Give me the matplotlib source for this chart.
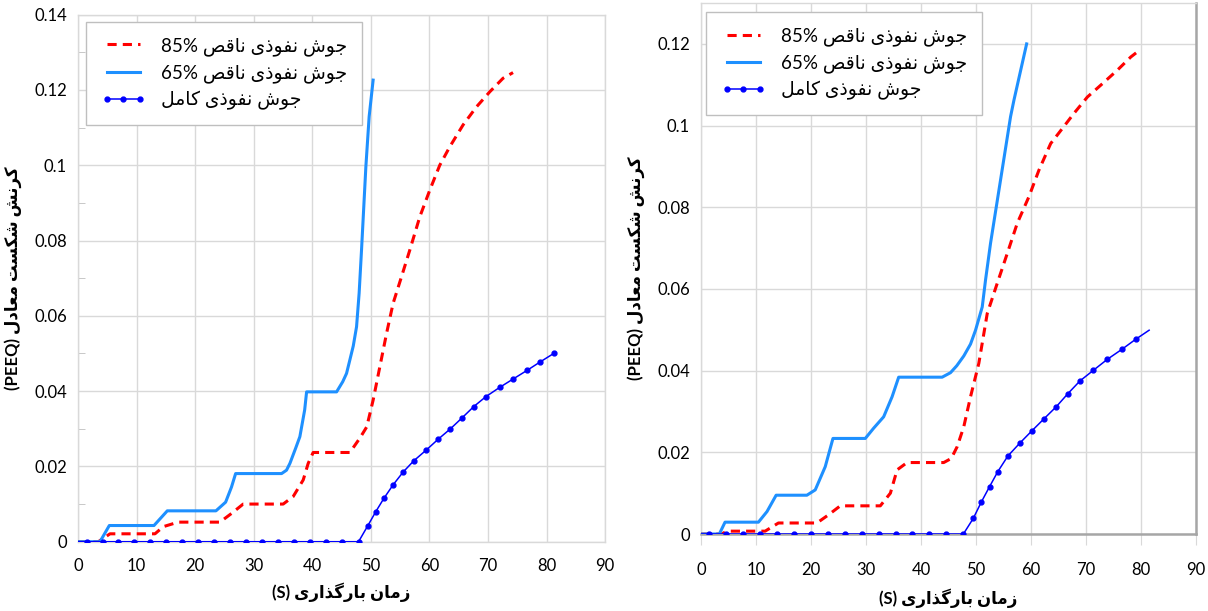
import matplotlib
matplotlib.use("Agg")
import matplotlib.pyplot as plt
from matplotlib.ticker import FuncFormatter, MultipleLocator

plt.rcParams['font.family'] = ['Lato', 'DejaVu Sans']

# ---- data (time in s, PEEQ) ----
left_t85 = [0, 3.46, 5.46, 13.14, 14.56, 17.1, 24.23, 26.2, 28.2, 35.03, 36.74, 38.45, 39.3, 40.15,
            46.42, 48.12, 49.3, 50.39, 51.54, 52.68, 53.8, 55.24, 56.66, 58.36, 60.07, 61.77,
            63.48, 65.75, 68.04, 70.31, 72.58, 74.28]
left_s85 = [0, 0, 0.0021, 0.0021, 0.004, 0.0052, 0.0052, 0.0075, 0.0100, 0.0100, 0.012, 0.0164, 0.0208, 0.0237,
            0.0237, 0.0275, 0.0305, 0.0376, 0.0465, 0.0553, 0.0633, 0.0704, 0.0775, 0.0863, 0.0934, 0.1000,
            0.1049, 0.1107, 0.1155, 0.1195, 0.1231, 0.1246]

left_t65 = [0, 3.75, 5.34, 12.97, 15.24, 23.55, 25.2, 26.2, 26.91, 34.76, 35.6, 36.18, 37.2, 37.88, 38.7,
            39.03, 44.15, 45.2, 45.85, 46.42, 47.0, 47.56, 48.0, 48.41, 49.15, 49.71, 50.39]
left_s65 = [0, 0, 0.0043, 0.0043, 0.0082, 0.0082, 0.0105, 0.0145, 0.0181, 0.0181, 0.019, 0.0208, 0.025, 0.0279, 0.035,
            0.0398, 0.0398, 0.0425, 0.0447, 0.0483, 0.052, 0.0571, 0.066, 0.0775, 0.0996, 0.1129, 0.1226]

left_tf = [0, 1.5, 4.2, 6.9, 9.6, 12.3, 15.1, 17.8, 20.5, 23.2, 26.0, 28.7, 31.4, 34.2, 36.9, 39.6, 42.3,
           45.1, 47.9, 49.5, 50.85, 52.22, 53.8, 55.51, 57.34, 59.5, 61.48, 63.6, 65.58, 67.58, 69.62,
           72.01, 74.28, 76.67, 78.96, 81.23]
left_sf = [0, 0, 0, 0, 0, 0, 0, 0, 0, 0, 0, 0, 0, 0, 0, 0, 0,
           0, 0, 0.0043, 0.008, 0.0115, 0.0151, 0.0185, 0.0215, 0.0244, 0.0272, 0.0300, 0.0329, 0.0359, 0.0385,
           0.041, 0.0432, 0.0455, 0.0478, 0.0500]

right_t85 = [0, 3.77, 4.68, 11.66, 14.08, 21.07, 23.19, 25.32, 32.6, 34.43, 35.65, 37.47, 44.13, 45.5,
             46.58, 47.78, 49.0, 50.51, 52.04, 53.86, 55.68, 57.5, 59.62, 61.44, 63.57, 65.7, 67.81,
             70.25, 72.68, 75.72, 78.14, 79.96]
right_s85 = [0, 0, 0.0007, 0.0007, 0.0027, 0.0027, 0.0047, 0.0069, 0.0069, 0.010, 0.0157, 0.0175, 0.0175, 0.0185,
             0.0214, 0.0263, 0.0336, 0.0418, 0.054, 0.0614, 0.0687, 0.0761, 0.0826, 0.0891, 0.0956, 0.0993, 0.103,
             0.107, 0.1099, 0.1136, 0.1168, 0.1187]

right_t65 = [0, 3.33, 4.37, 10.44, 12.0, 13.66, 19.25, 20.77, 22.59, 23.99, 29.87, 31.38, 33.21, 34.74, 35.94,
             43.84, 45.36, 46.5, 47.78, 49.0, 49.91, 51.13, 51.73, 52.64, 54.46, 56.28, 56.89, 59.2]
right_s65 = [0, 0, 0.0029, 0.0029, 0.0055, 0.0095, 0.0095, 0.0108, 0.0165, 0.0234, 0.0234, 0.0259, 0.0287, 0.0336, 0.0384,
             0.0384, 0.0395, 0.0412, 0.0436, 0.0465, 0.0499, 0.0556, 0.0622, 0.0712, 0.0867, 0.1022, 0.1062, 0.12]

right_tf = [0, 1.5, 4.6, 7.7, 10.7, 13.8, 16.9, 20.0, 23.0, 26.1, 29.2, 32.3, 35.4, 38.4, 41.5, 44.6, 47.7,
            49.49, 50.95, 52.46, 53.97, 55.79, 57.92, 60.11, 62.35, 64.61, 66.72, 68.91, 71.35, 73.9,
            76.5, 79.05, 81.47]
right_sf = [0, 0, 0, 0, 0, 0, 0, 0, 0, 0, 0, 0, 0, 0, 0, 0, 0,
            0.0038, 0.0078, 0.0116, 0.0153, 0.0191, 0.0222, 0.0252, 0.0282, 0.0312, 0.0344, 0.0375, 0.0401, 0.0428,
            0.0452, 0.0477, 0.0499]

label85 = "جوش نفوذی ناقص"
label65 = "جوش نفوذی ناقص"
label_full = "جوش نفوذی کامل"
ylabel_fa = "کرنش شکست معادل"
xlabel_fa = "زمان بارگذاری"

# ---- minimal arabic shaping (matplotlib has no shaping / bidi) ----
FORMS = {
    'ا': ('\uFE8D', '\uFE8E', None, None),
    'ب': ('\uFE8F', '\uFE90', '\uFE91', '\uFE92'),
    'ت': ('\uFE95', '\uFE96', '\uFE97', '\uFE98'),
    'ج': ('\uFE9D', '\uFE9E', '\uFE9F', '\uFEA0'),
    'د': ('\uFEA9', '\uFEAA', None, None),
    'ذ': ('\uFEAB', '\uFEAC', None, None),
    'ر': ('\uFEAD', '\uFEAE', None, None),
    'ز': ('\uFEAF', '\uFEB0', None, None),
    'س': ('\uFEB1', '\uFEB2', '\uFEB3', '\uFEB4'),
    'ش': ('\uFEB5', '\uFEB6', '\uFEB7', '\uFEB8'),
    'ص': ('\uFEB9', '\uFEBA', '\uFEBB', '\uFEBC'),
    'ع': ('\uFEC9', '\uFECA', '\uFECB', '\uFECC'),
    'ف': ('\uFED1', '\uFED2', '\uFED3', '\uFED4'),
    'ق': ('\uFED5', '\uFED6', '\uFED7', '\uFED8'),
    'ل': ('\uFEDD', '\uFEDE', '\uFEDF', '\uFEE0'),
    'م': ('\uFEE1', '\uFEE2', '\uFEE3', '\uFEE4'),
    'ن': ('\uFEE5', '\uFEE6', '\uFEE7', '\uFEE8'),
    'و': ('\uFEED', '\uFEEE', None, None),
    '\u06A9': ('\uFB8E', '\uFB8F', '\uFB90', '\uFB91'),
    '\u06AF': ('\uFB92', '\uFB93', '\uFB94', '\uFB95'),
    '\u06CC': ('\uFBFC', '\uFBFD', '\uFBFE', '\uFBFF'),
}


def rtl(text):
    text = text.replace('\u0643', '\u06A9').replace('\u064A', '\u06CC')
    out = []
    for i, c in enumerate(text):
        if c not in FORMS:
            out.append(c)
            continue
        prev = text[i - 1] if i > 0 else None
        nxt = text[i + 1] if i + 1 < len(text) else None
        jp = prev in FORMS and FORMS[prev][2] is not None
        jn = nxt in FORMS and FORMS[c][2] is not None
        iso, fin, ini, med = FORMS[c]
        if jp and jn:
            out.append(med)
        elif jp:
            out.append(fin)
        elif jn:
            out.append(ini)
        else:
            out.append(iso)
    return ''.join(reversed(out))


fig = plt.figure(figsize=(12.08, 6.11), dpi=100)
ax1 = fig.add_axes([0.0646, 0.1134, 0.4363, 0.8627])
ax2 = fig.add_axes([0.5803, 0.126, 0.4098, 0.869])

fmt = FuncFormatter(lambda v, p: '{:g}'.format(round(v, 4)))

for ax, d, ymax, legpos, ylab_x, xlab_y, right_style in [
        (ax1, (left_t85, left_s85, left_t65, left_s65, left_tf, left_sf), 0.14, (0.015, 0.986), -0.106, -0.077, False),
        (ax2, (right_t85, right_s85, right_t65, right_s65, right_tf, right_sf), 0.13, (0.01, 0.983), -0.113, -0.102, True)]:
    t85, s85, t65, s65, tf, sf = d
    l1, = ax.plot(t85, s85, color='#ff0000', lw=2.2, dashes=(3, 2), zorder=3)
    l2, = ax.plot(t65, s65, color='#1e90ff', lw=2.2, zorder=3)
    l3, = ax.plot(tf, sf, color='#0000ff', lw=1.1, marker='o', ms=3.5,
                  markevery=slice(1, -1) if right_style else slice(1, None), zorder=4)
    ax.set_xlim(0, 90)
    ax.set_ylim(0, ymax)
    ax.xaxis.set_major_locator(MultipleLocator(10))
    ax.yaxis.set_major_locator(MultipleLocator(0.02))
    ax.yaxis.set_major_formatter(fmt)
    ax.grid(True, color='#d9d9d9', lw=1.0)
    ax.set_axisbelow(True)
    ax.tick_params(labelsize=12, colors='#000000')
    ax.tick_params(axis='y', length=0, pad=8)
    for s in ax.spines.values():
        s.set_color('#d9d9d9')
        s.set_linewidth(1.0)
    if right_style:
        ax.tick_params(axis='x', length=8, color='#d9d9d9', pad=12)
        ax.spines['bottom'].set_color('#a6a6a6')
        ax.spines['bottom'].set_linewidth(1.8)
        ax.spines['right'].set_color('#a6a6a6')
        ax.spines['right'].set_linewidth(1.8)
    else:
        ax.tick_params(axis='x', length=0, pad=12)
        ax.yaxis.set_minor_locator(MultipleLocator(0.01))
        ax.tick_params(axis='y', which='minor', direction='in', length=5, color='#bfbfbf')

    ax.set_ylabel('(PEEQ) ' + rtl(ylabel_fa), fontsize=12, fontweight='bold')
    ax.yaxis.set_label_coords(ylab_x, 0.5)
    ax.set_xlabel('(S) ' + rtl(xlabel_fa), fontsize=12, fontweight='bold')
    ax.xaxis.set_label_coords(0.5, xlab_y)

    leg = ax.legend([l1, l2, l3], ['85% ' + rtl(label85), '65% ' + rtl(label65), rtl(label_full)],
                    loc='upper left', bbox_to_anchor=legpos, fontsize=13.5, fancybox=False,
                    edgecolor='#bfbfbf', framealpha=1, numpoints=3, handlelength=2.4,
                    borderpad=0.8, labelspacing=0.45, handletextpad=0.8, borderaxespad=0)
    leg.get_frame().set_linewidth(1.0)

fig.savefig('out.png', dpi=100)
